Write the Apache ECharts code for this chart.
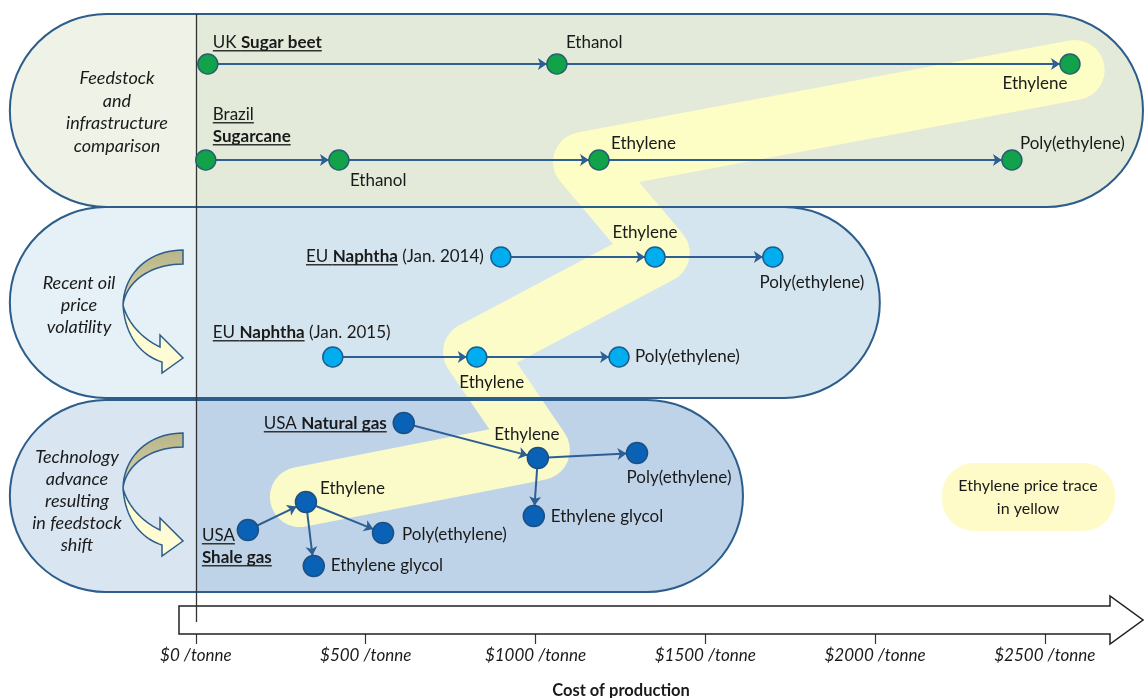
<!DOCTYPE html>
<html>
<head>
<meta charset="utf-8">
<script src="https://cdn.jsdelivr.net/npm/echarts@6.0.0/dist/echarts.min.js"></script>
<style>
  html, body { margin: 0; padding: 0; background: #fff; }
  #main { width: 1144px; height: 698px; }
</style>
</head>
<body>
<div id="main"></div>
<script>
// ---- data ----
const costTicks = [0, 500, 1000, 1500, 2000, 2500];

// feedstock bands (cost from/to, row from/to)
const bandStart = [-548, -548, -548];
const bandEnd = [2789, 2014, 1611];
const bandTop = [1.4, 20.7, 40.0];
const bandBottom = [20.7, 39.8, 59.2];

// nodes
const nodeIds = ['ukBeet', 'ukEthanol', 'ukEthylene',
  'brCane', 'brEthanol', 'brEthylene', 'brPoly',
  'eu14Naphtha', 'eu14Ethylene', 'eu14Poly',
  'eu15Naphtha', 'eu15Ethylene', 'eu15Poly',
  'usGas', 'usEthylene', 'usPoly', 'usGlycol',
  'shGas', 'shEthylene', 'shPoly', 'shGlycol'];
const nodeText = ['{u|UK }{ub|Sugar beet}', 'Ethanol', 'Ethylene',
  '{u|Brazil}\n{ub|Sugarcane}', 'Ethanol', 'Ethylene', 'Poly(ethylene)',
  '{u|EU }{ub|Naphtha} (Jan. 2014)', 'Ethylene', 'Poly(ethylene)',
  '{u|EU }{ub|Naphtha} (Jan. 2015)', 'Ethylene', 'Poly(ethylene)',
  '{u|USA }{ub|Natural gas}', 'Ethylene', 'Poly(ethylene)', 'Ethylene glycol',
  '{u|USA}\n{ub|Shale gas}', 'Ethylene', 'Poly(ethylene)', 'Ethylene glycol'];
const nodeCost = [35, 1063, 2574,
  29, 421, 1187, 2403,
  898, 1352, 1699,
  403, 827, 1246,
  612, 1007, 1299, 995,
  153, 324, 551, 347];
const nodeRow = [6.4, 6.4, 6.4,
  16.0, 16.0, 16.0, 16.0,
  25.7, 25.7, 25.7,
  35.7, 35.7, 35.7,
  42.3, 45.8, 45.3, 51.6,
  53.0, 50.2, 53.3, 56.6];
const nodeGroup = ['sugar', 'sugar', 'sugar',
  'sugar', 'sugar', 'sugar', 'sugar',
  'naphtha', 'naphtha', 'naphtha',
  'naphtha', 'naphtha', 'naphtha',
  'gas', 'gas', 'gas', 'gas',
  'gas', 'gas', 'gas', 'gas'];

// process steps
const edgeFrom = ['ukBeet', 'ukEthanol',
  'brCane', 'brEthanol', 'brEthylene',
  'eu14Naphtha', 'eu14Ethylene',
  'eu15Naphtha', 'eu15Ethylene',
  'usGas', 'usEthylene', 'usEthylene',
  'shGas', 'shEthylene', 'shEthylene'];
const edgeTo = ['ukEthanol', 'ukEthylene',
  'brEthanol', 'brEthylene', 'brPoly',
  'eu14Ethylene', 'eu14Poly',
  'eu15Ethylene', 'eu15Poly',
  'usEthylene', 'usPoly', 'usGlycol',
  'shEthylene', 'shPoly', 'shGlycol'];

// ethylene price trace
const traceCost = [2588, 1140, 1366, 816, 1013, 306];
const traceRow = [7.0, 16.2, 25.3, 35.2, 45.0, 49.7];

// ---- styles ----
const FONT = 'Lato, "Open Sans", sans-serif';
const TEXT = '#1a1a1a';
const EDGE = '#2e5f94';
const BORDER = '#2c5d8b';
const bandLeftCol = ['#eef2e7', '#e6f0f7', '#d9e5f1'];
const bandRightCol = ['#e3eada', '#d5e5ef', '#bfd3e8'];
const groupColor = { sugar: '#12a34a', naphtha: '#00adee', gas: '#0a62b6' };
const groupBorder = { sugar: '#256070', naphtha: '#1d5d8e', gas: '#1d4f80' };
const groupSize = { sugar: 20, naphtha: 20, gas: 21 };

// label placement per node: [dx, dy, align]
const labelPlace = [[5, -21, 'left'], [9, -21, 'left'], [-35, 20, 'center'],
  [7, -34, 'left'], [11, 21, 'left'], [12, -16, 'left'], [8, -16, 'left'],
  [-17, 0, 'right'], [-10, -24, 'center'], [39, 26, 'center'],
  [-120, -24, 'left'], [15, 26, 'center'], [16, 0, 'left'],
  [-17, 1, 'right'], [-11, -23, 'center'], [42, 25, 'center'], [17, 1, 'left'],
  [-46, 17, 'left'], [14, -13, 'left'], [19, 2, 'left'], [17, 0, 'left']];

function underline() {
  return {
    type: 'linear', x: 0, y: 0, x2: 0, y2: 1,
    colorStops: [
      { offset: 0, color: 'rgba(0,0,0,0)' },
      { offset: 0.91, color: 'rgba(0,0,0,0)' },
      { offset: 0.91, color: '#333' },
      { offset: 1, color: '#333' }
    ]
  };
}

function bandItem(params, api, filled) {
  const a = api.coord([api.value(0), api.value(2)]);
  const b = api.coord([api.value(1), api.value(3)]);
  const split = api.coord([0, api.value(2)])[0];
  const w = b[0] - a[0], h = b[1] - a[1];
  const t = (split - a[0]) / w;
  const i = params.dataIndex;
  const style = filled ? {
    fill: {
      type: 'linear', x: 0, y: 0, x2: 1, y2: 0,
      colorStops: [
        { offset: 0, color: bandLeftCol[i] }, { offset: t, color: bandLeftCol[i] },
        { offset: t, color: bandRightCol[i] }, { offset: 1, color: bandRightCol[i] }
      ]
    }
  } : { fill: 'none', stroke: BORDER, lineWidth: 2 };
  return { type: 'rect', shape: { x: a[0], y: a[1], width: w, height: h, r: h / 2 }, style: style };
}

const bandData = bandStart.map((s, i) => [s, bandEnd[i], bandTop[i], bandBottom[i]]);

// curved "shift" arrow outline, sampled from bezier pieces
function bez(p0, p1, p2, p3, n) {
  const out = [];
  for (let k = 1; k <= n; k++) {
    const t = k / n, u = 1 - t;
    out.push([
      u * u * u * p0[0] + 3 * u * u * t * p1[0] + 3 * u * t * t * p2[0] + t * t * t * p3[0],
      u * u * u * p0[1] + 3 * u * u * t * p1[1] + 3 * u * t * t * p2[1] + t * t * t * p3[1]
    ]);
  }
  return out;
}
function curvedArrowPoints(dy) {
  let pts = [[183, 250]];
  pts = pts.concat(bez([183, 250], [150, 250], [124, 272], [123, 305], 20));
  pts = pts.concat(bez([123, 305], [125, 335], [140, 355], [162, 362], 20));
  pts.push([162, 373], [183, 358], [160, 335], [160, 347]);
  pts = pts.concat(bez([160, 347], [145, 340], [128, 325], [123, 305], 20));
  pts = pts.concat(bez([123, 305], [126, 282], [150, 264], [183, 264], 20));
  return pts.map(p => [p[0], p[1] + dy]);
}
const arrowFill = {
  type: 'linear', x: 0, y: 0, x2: 0, y2: 1,
  colorStops: [
    { offset: 0, color: '#b8b488' }, { offset: 0.3, color: '#cdca9f' },
    { offset: 0.44, color: '#e2e0b6' }, { offset: 0.47, color: '#fdfbd0' },
    { offset: 1, color: '#fffcd6' }
  ]
};

const chart = echarts.init(document.getElementById('main'));
chart.setOption({
  animation: false,
  backgroundColor: '#fff',
  grid: { left: 0, right: 0, top: 0, bottom: 66, containLabel: false, outerBoundsMode: 'none' },
  xAxis: {
    type: 'value', min: -577, max: 2792, position: 'bottom',
    axisLine: { show: false, onZero: false },
    splitLine: { show: false },
    axisTick: { show: true, customValues: costTicks, length: 12, lineStyle: { color: '#333', width: 1.2 } },
    axisLabel: {
      customValues: costTicks, margin: 15,
      formatter: v => '$' + v + ' /tonne',
      fontFamily: FONT, fontStyle: 'italic', fontSize: 17, color: TEXT
    },
    name: 'Cost of production', nameLocation: 'middle', nameGap: 50,
    nameTextStyle: { fontFamily: FONT, fontWeight: 'bold', fontSize: 16.5, color: TEXT, padding: [0, 0, 0, 98] }
  },
  yAxis: { type: 'value', min: 0, max: 63.2, inverse: true, show: false },
  graphic: [
    {
      type: 'polygon', z: 1,
      shape: { points: [[179, 606], [1110, 606], [1110, 596], [1143, 620], [1110, 644], [1110, 634], [179, 634]] },
      style: { fill: '#fff', stroke: '#222', lineWidth: 1.5 }
    },
    { type: 'polygon', z: 50, shape: { points: curvedArrowPoints(0) }, style: { fill: arrowFill, stroke: BORDER, lineWidth: 1.5 } },
    { type: 'polygon', z: 50, shape: { points: curvedArrowPoints(183) }, style: { fill: arrowFill, stroke: BORDER, lineWidth: 1.5 } },
    {
      type: 'text', z: 50, x: 117, y: 112,
      style: { text: 'Feedstock\nand\ninfrastructure\ncomparison', textAlign: 'center', textVerticalAlign: 'middle',
        fontFamily: FONT, fontStyle: 'italic', fontSize: 18, lineHeight: 22.5, fill: TEXT }
    },
    {
      type: 'text', z: 50, x: 79, y: 305,
      style: { text: 'Recent oil\nprice\nvolatility', textAlign: 'center', textVerticalAlign: 'middle',
        fontFamily: FONT, fontStyle: 'italic', fontSize: 18, lineHeight: 22, fill: TEXT }
    },
    {
      type: 'text', z: 50, x: 77, y: 501,
      style: { text: 'Technology\nadvance\nresulting\nin feedstock\nshift', textAlign: 'center', textVerticalAlign: 'middle',
        fontFamily: FONT, fontStyle: 'italic', fontSize: 18, lineHeight: 22, fill: TEXT }
    },
    {
      type: 'rect', z: 50, shape: { x: 942, y: 463, width: 173, height: 68, r: 32 },
      style: { fill: '#fffbc9' }
    },
    {
      type: 'text', z: 51, x: 1028, y: 497,
      style: { text: 'Ethylene price trace\nin yellow', textAlign: 'center', textVerticalAlign: 'middle',
        fontFamily: FONT, fontSize: 16, lineHeight: 23, fill: TEXT }
    }
  ],
  series: [
    {
      type: 'custom', z: 1, silent: true,
      renderItem: (p, api) => bandItem(p, api, true),
      encode: { x: [0, 1], y: [2, 3] },
      data: bandData
    },
    {
      type: 'line', z: 2, silent: true, symbol: 'none',
      data: traceCost.map((c, i) => [c, traceRow[i]]),
      lineStyle: { width: 60, color: 'rgba(255,254,196,0.92)', cap: 'round', join: 'round' },
      markLine: {
        silent: true, symbol: 'none', label: { show: false },
        lineStyle: { color: '#333', width: 1.3, type: 'solid' },
        data: [[{ coord: [0, 1.4] }, { coord: [0, 62.2] }]]
      }
    },
    {
      type: 'custom', z: 3, silent: true,
      renderItem: (p, api) => bandItem(p, api, false),
      encode: { x: [0, 1], y: [2, 3] },
      data: bandData
    },
    {
      type: 'graph', coordinateSystem: 'cartesian2d', z: 5, silent: true,
      edgeSymbol: ['none', 'arrow'], edgeSymbolSize: 9,
      lineStyle: { color: EDGE, width: 2, opacity: 1, curveness: 0 },
      label: {
        show: true, color: TEXT, fontFamily: FONT, fontSize: 17,
        formatter: p => nodeText[p.dataIndex],
        rich: {
          u: { fontFamily: FONT, fontSize: 17, color: TEXT, lineHeight: 22, backgroundColor: underline() },
          ub: { fontFamily: FONT, fontSize: 17, color: TEXT, fontWeight: 'bold', lineHeight: 22, backgroundColor: underline() }
        }
      },
      emphasis: { disabled: true },
      data: nodeIds.map((id, i) => ({
        name: id,
        value: [nodeCost[i], nodeRow[i]],
        symbolSize: groupSize[nodeGroup[i]],
        itemStyle: { color: groupColor[nodeGroup[i]], borderColor: groupBorder[nodeGroup[i]], borderWidth: 1.5 },
        label: { position: 'inside', offset: [labelPlace[i][0], labelPlace[i][1]], align: labelPlace[i][2], verticalAlign: 'middle' }
      })),
      links: edgeFrom.map((s, i) => ({ source: s, target: edgeTo[i] }))
    }
  ]
});
</script>
</body>
</html>
